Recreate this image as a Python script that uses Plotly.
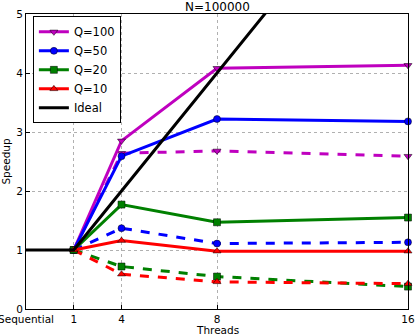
import plotly.graph_objects as go

# x positions on the axis; "Sequential" sits at 0, thread counts placed so 1 -> 2
x_pos = [2, 4, 8, 16]
tick_vals = [0, 2, 4, 8, 16]
tick_text = ["Sequential", "1", "4", "8", "16"]

ideal_x = [0, 2, 4, 8, 16]
ideal_y = [1, 1, 2, 4, 8]

q100_solid = [1.0, 2.85, 4.08, 4.13]
q100_dash = [1.0, 2.64, 2.68, 2.59]
q50_solid = [1.0, 2.59, 3.22, 3.18]
q50_dash = [1.0, 1.37, 1.11, 1.13]
q20_solid = [1.0, 1.77, 1.47, 1.55]
q20_dash = [1.0, 0.72, 0.55, 0.38]
q10_solid = [1.0, 1.16, 0.98, 0.98]
q10_dash = [1.0, 0.59, 0.46, 0.43]

series = [
    ("Q=100", "#bf00bf", "triangle-down", q100_solid, q100_dash),
    ("Q=50", "#0000ff", "circle", q50_solid, q50_dash),
    ("Q=20", "#008000", "square", q20_solid, q20_dash),
    ("Q=10", "#ff0000", "triangle-up", q10_solid, q10_dash),
]

FONT = "DejaVu Sans"

fig = go.Figure()
# dashed runs first, no legend
for name, color, sym, solid, dash in series:
    fig.add_trace(go.Scatter(
        x=x_pos, y=dash, mode="lines+markers",
        line=dict(color=color, width=3, dash="dash"),
        marker=dict(symbol=sym, size=7, color=color,
                    line=dict(color="black", width=0.5)),
        showlegend=False, cliponaxis=False))
for name, color, sym, solid, dash in series:
    fig.add_trace(go.Scatter(
        x=x_pos, y=solid, mode="lines+markers",
        line=dict(color=color, width=3),
        marker=dict(symbol=sym, size=7, color=color,
                    line=dict(color="black", width=0.5)),
        name=name, cliponaxis=False))
fig.add_trace(go.Scatter(
    x=ideal_x, y=ideal_y, mode="lines",
    line=dict(color="black", width=3), name="Ideal"))

axis_common = dict(
    showline=True, linecolor="black", linewidth=1, mirror=True,
    ticks="inside", ticklen=4, tickcolor="black",
    showgrid=True, gridcolor="#b0b0b0", griddash="dot", gridwidth=1,
    zeroline=False, automargin=False, ticklabeloverflow="allow",
    tickfont=dict(family=FONT, size=10.5, color="black"),
)

fig.update_layout(
    width=415, height=335,
    margin=dict(l=26, r=7, t=14, b=26),
    paper_bgcolor="white", plot_bgcolor="white",
    font=dict(family=FONT, size=10.5, color="black"),
    title=dict(text="N=100000", x=0.524, xanchor="center",
               yref="container", y=0.979, yanchor="middle",
               font=dict(family=FONT, size=12)),
    xaxis=dict(range=[0, 16], tickvals=tick_vals, ticktext=tick_text,
               ticklabelstandoff=0, **axis_common),
    yaxis=dict(range=[0, 5], tickvals=[0, 1, 2, 3, 4, 5],
               title=dict(text="Speedup", standoff=3,
                          font=dict(family=FONT, size=10.5)),
               **axis_common),
    legend=dict(x=0.018, y=0.992, xanchor="left", yanchor="top",
                bgcolor="white", bordercolor="black", borderwidth=1,
                font=dict(family=FONT, size=11.5), tracegroupgap=0,
                itemwidth=30),
)

# x title as an annotation: the axis title ignores standoff without automargin
fig.add_annotation(text="Threads", xref="paper", yref="paper",
                   x=0.5, y=-0.072, xanchor="center", yanchor="middle",
                   showarrow=False, font=dict(family=FONT, size=10.5))

# the page's default body margin would shift the figure out of the window
fig.write_html("out.html", config={"displayModeBar": False},
               post_script="document.body.style.margin='0';")
